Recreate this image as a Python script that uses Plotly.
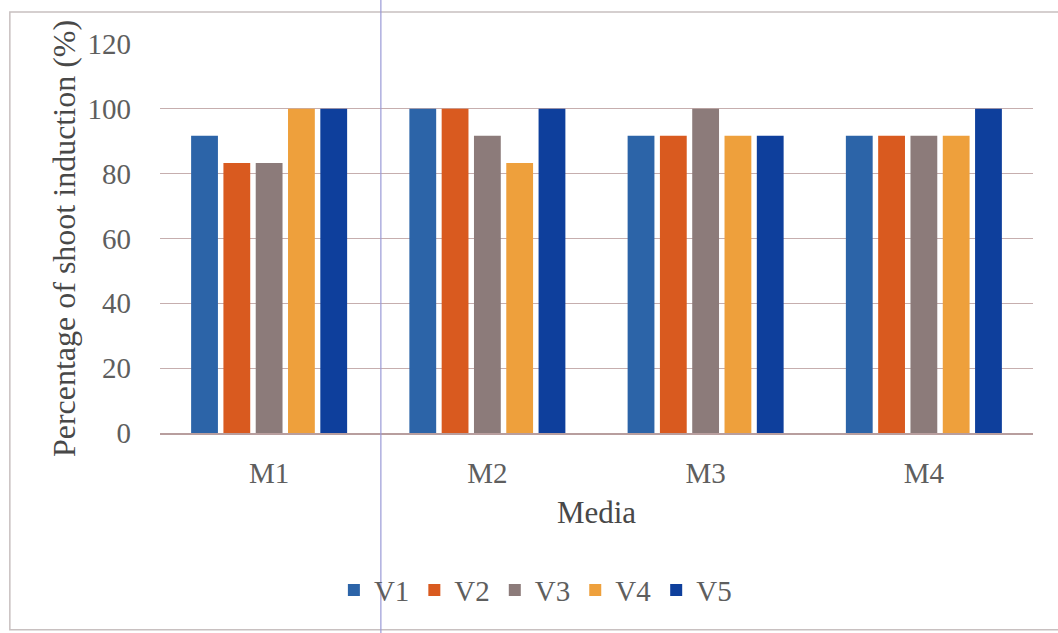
import plotly.graph_objects as go

media = ["M1", "M2", "M3", "M4"]
series_names = ["V1", "V2", "V3", "V4", "V5"]
v1 = [91.7, 100.0, 91.7, 91.7]
v2 = [83.3, 100.0, 91.7, 91.7]
v3 = [83.3, 91.7, 100.0, 91.7]
v4 = [100.0, 83.3, 91.7, 91.7]
v5 = [100.0, 100.0, 91.7, 100.0]
y_ticks = [0, 20, 40, 60, 80, 100, 120]
colors = ["#2C64A8", "#D95A1F", "#8C7B7A", "#EEA03C", "#0E3F9C"]

FONT = "Liberation Serif, Times New Roman, serif"

fig = go.Figure()
for name, vals, col in zip(series_names, [v1, v2, v3, v4, v5], colors):
    fig.add_trace(go.Bar(x=media, y=vals, name=name, marker=dict(color=col, line=dict(width=0))))

fig.update_layout(
    width=1058, height=633,
    margin=dict(l=160, r=25, t=44, b=200),
    paper_bgcolor="white", plot_bgcolor="white",
    barmode="group", bargap=0.26, bargroupgap=0.17,
    font=dict(family=FONT, color="#5E5E5E", size=29),
    showlegend=True,
    legend=dict(orientation="h", x=0.43, xanchor="center", y=-0.404, yanchor="middle",
                font=dict(size=29, color="#5E5E5E"), itemwidth=30, tracegroupgap=0,
                bgcolor="rgba(0,0,0,0)"),
    xaxis=dict(
        showgrid=False, showline=True, linecolor="#B89E9E", linewidth=1.5,
        ticks="", tickfont=dict(size=29, color="#5E5E5E"), ticklabelstandoff=13,
        title=dict(text="Media", font=dict(size=31, color="#484848"), standoff=14),
    ),
    yaxis=dict(
        range=[0, 120], tickvals=y_ticks, showgrid=True, gridcolor="#C6AEAE", gridwidth=1,
        zeroline=False, showline=False, ticks="", ticklabelstandoff=28,
        tickfont=dict(size=29, color="#5E5E5E"),
        title=dict(text="Percentage of shoot induction (%)", font=dict(size=32, color="#484848"), standoff=2),
    ),
    shapes=[
        dict(type="rect", xref="paper", yref="paper", x0=-0.172, x1=1.2, y0=-0.506, y1=1.082,
             line=dict(color="#C8C0C0", width=1.5), fillcolor="rgba(0,0,0,0)", layer="below"),
        dict(type="line", xref="paper", yref="paper", x0=0.253, x1=0.253, y0=-0.52, y1=1.2,
             line=dict(color="#9A9AD6", width=1.2), layer="above"),
    ],
)

fig.write_html("out.html")
